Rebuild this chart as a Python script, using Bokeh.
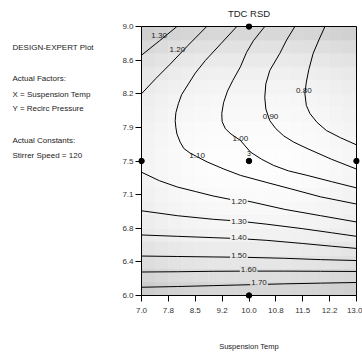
from bokeh.plotting import figure
from bokeh.layouts import row
from bokeh.models import FixedTicker, Range1d, Label, ColumnDataSource
from bokeh.embed import file_html
from bokeh.resources import INLINE
from bokeh.core.properties import value

FONT = "Liberation Sans"

# ---------------- data ----------------
title_text = "TDC RSD"
x_axis_title = "Suspension Temp"
info_lines = ["DESIGN-EXPERT Plot", "Actual Factors:", "X = Suspension Temp",
              "Y = Recirc Pressure", "Actual Constants:", "Stirrer Speed = 120"]

x_min, x_max = 7.0, 13.0
y_min, y_max = 6.0, 9.0
x_ticks = [7.0, 7.75, 8.5, 9.25, 10.0, 10.75, 11.5, 12.25, 13.0]
x_tick_labels = ["7.0", "7.8", "8.5", "9.2", "10.0", "10.8", "11.5", "12.2", "13.0"]
y_ticks = [6.0, 6.375, 6.75, 7.125, 7.5, 7.875, 8.25, 8.625, 9.0]
y_tick_labels = ["6.0", "6.4", "6.8", "7.1", "7.5", "7.9", "8.2", "8.6", "9.0"]

# contour lines (traced)
contour_levels = [1.30, 1.20, 1.10, 1.00, 0.90, 0.80, 1.20, 1.30, 1.40, 1.50, 1.60, 1.70]
contour_xs = [
    [7.99, 7.5, 7.0],
    [8.82, 8.30, 7.80, 7.40, 7.0],
    [9.66, 9.22, 8.78, 8.50, 8.31, 8.12, 8.03, 7.96, 7.94, 7.96, 7.99, 8.08, 8.18, 8.35, 8.54,
     8.83, 9.30, 9.76, 10.5, 11.16, 12.0, 13.0],
    [10.44, 10.12, 9.93, 9.76, 9.55, 9.40, 9.29, 9.24, 9.25, 9.34, 9.50, 9.76, 10.04, 10.35,
     10.69, 11.1, 11.62, 12.3, 13.0],
    [11.28, 11.05, 10.86, 10.58, 10.47, 10.44, 10.47, 10.58, 10.75, 10.97, 11.25, 11.62, 12.3, 13.0],
    [12.12, 11.95, 11.79, 11.67, 11.60, 11.56, 11.60, 11.70, 11.90, 12.16, 12.55, 13.0],
    [7.0, 7.5, 8.0, 8.5, 9.0, 9.5, 10.0, 11.0, 12.0, 13.0],
    [7.0, 8.0, 9.0, 9.7, 10.5, 11.5, 12.3, 13.0],
    [7.0, 8.0, 9.0, 9.7, 10.5, 11.5, 12.3, 13.0],
    [7.0, 8.0, 9.0, 10.0, 11.0, 12.0, 13.0],
    [7.0, 8.0, 9.0, 10.0, 11.0, 12.0, 13.0],
    [7.0, 8.0, 9.0, 10.0, 11.0, 12.0, 13.0],
]
contour_ys = [
    [9.0, 8.84, 8.68],
    [9.0, 8.79, 8.58, 8.42, 8.25],
    [9.0, 8.81, 8.62, 8.48, 8.36, 8.24, 8.14, 8.04, 7.95, 7.87, 7.80, 7.71, 7.64, 7.59, 7.55,
     7.49, 7.41, 7.34, 7.26, 7.19, 7.10, 7.02],
    [9.0, 8.84, 8.71, 8.55, 8.40, 8.28, 8.15, 8.03, 7.94, 7.86, 7.80, 7.73, 7.60, 7.52,
     7.45, 7.39, 7.34, 7.27, 7.20],
    [9.0, 8.85, 8.70, 8.51, 8.36, 8.21, 8.08, 7.95, 7.86, 7.78, 7.71, 7.64, 7.52, 7.41],
    [9.0, 8.85, 8.70, 8.52, 8.38, 8.25, 8.12, 8.03, 7.93, 7.84, 7.76, 7.68],
    [7.375, 7.28, 7.21, 7.16, 7.11, 7.07, 7.05, 6.96, 6.89, 6.82],
    [6.945, 6.89, 6.85, 6.83, 6.795, 6.745, 6.70, 6.66],
    [6.675, 6.66, 6.645, 6.635, 6.615, 6.58, 6.55, 6.525],
    [6.44, 6.435, 6.43, 6.425, 6.415, 6.40, 6.39],
    [6.262, 6.265, 6.27, 6.272, 6.272, 6.27, 6.268],
    [6.092, 6.10, 6.11, 6.12, 6.13, 6.138, 6.145],
]
label_x = [7.49, 8.0, 8.55, 9.76, 10.60, 11.53, 9.72, 9.72, 9.72, 9.72, 9.99, 10.28]
label_y = [8.90, 8.74, 7.56, 7.75, 8.00, 8.29, 7.045, 6.83, 6.645, 6.45, 6.29, 6.15]

# design points
design_x = [7.0, 10.0, 13.0, 10.0, 10.0]
design_y = [7.5, 7.5, 7.5, 9.0, 6.0]
design_reps = ["", "3", "", "", ""]

# background shading (darkness), rows bottom->top, cols left->right
shade_row_dark = [41, 33, 25, 19, 13, 9, 7, 5, 3, 2, 2, 3, 4, 6, 8, 11, 15, 21, 29, 39]
shade_col_dark = [9, 6, 4, 2, 1, 0, 0, 0, 0, 0, 0, 1, 2, 3, 5, 7]

# ---------------- layout ----------------
W, H = 362, 354
DW = 110                      # width of the left text panel
BOX_L, BOX_R, BOX_T, BOX_B = 141, 356, 26, 295
PAD = 3
FRAME_T, FRAME_B = BOX_T - PAD, BOX_B + PAD
sx = (BOX_R - BOX_L) / (x_max - x_min)
sy = (BOX_B - BOX_T) / (y_max - y_min)

# left panel with the info text; its frame is aligned with the main frame by the row,
# so its y range maps canvas pixel rows (measured from top) FRAME_T..FRAME_B
info = figure(width=DW, height=H, output_backend="svg", toolbar_location=None,
              x_range=Range1d(0, DW), y_range=Range1d(FRAME_B, FRAME_T),
              min_border=0, min_border_left=0, min_border_right=0,
              min_border_top=FRAME_T, min_border_bottom=H - FRAME_B)
info.axis.visible = False
info.grid.visible = False
info.outline_line_color = None
info.background_fill_color = "white"
info.border_fill_color = "white"
info_py = [47, 78, 94, 108, 140, 155]
for txt, py in zip(info_lines, info_py):
    info.add_layout(Label(x=12, y=py, text=txt, text_font=FONT, text_font_size="8px",
                          text_color="#222222", text_baseline="middle"))

p = figure(width=W - DW, height=H, output_backend="svg", toolbar_location=None,
           x_range=Range1d(x_min - PAD / sx, x_max + PAD / sx),
           y_range=Range1d(y_min - PAD / sy, y_max + PAD / sy),
           min_border_left=BOX_L - PAD - DW, min_border_right=W - (BOX_R + PAD),
           min_border_top=FRAME_T, min_border_bottom=H - FRAME_B,
           title=title_text)
p.outline_line_color = None
p.xgrid.visible = False
p.ygrid.visible = False
p.background_fill_color = "white"
p.border_fill_color = "white"

p.title.align = "center"
p.title.text_font = FONT
p.title.text_font_size = "9.5px"
p.title.text_font_style = "normal"
p.title.text_color = "#222222"
p.title.standoff = 9

# shading
nr, nc = len(shade_row_dark), len(shade_col_dark)
dx = (x_max - x_min) / nc
dy = (y_max - y_min) / nr
ql, qr, qb, qt, qc = [], [], [], [], []


def shade_color(i, j):
    v = max(0, 255 - shade_row_dark[i] - shade_col_dark[j])
    return "#%02x%02x%02x" % (v, v, v)


for i in range(nr):
    for j in range(nc):
        ql.append(x_min + j * dx)
        qr.append(x_min + (j + 1) * dx)
        qb.append(y_min + i * dy)
        qt.append(y_min + (i + 1) * dy)
        qc.append(shade_color(i, j))
p.quad(left=ql, right=qr, bottom=qb, top=qt, fill_color=qc, line_color=qc, line_width=0.5)

# contour lines
p.multi_line(xs=contour_xs, ys=contour_ys, line_color="black", line_width=1)

# contour labels
lab_text = ["%.2f" % v for v in contour_levels]
bg = []
for xx, yy in zip(label_x, label_y):
    j = min(nc - 1, max(0, int((xx - x_min) / dx)))
    i = min(nr - 1, max(0, int((yy - y_min) / dy)))
    bg.append(shade_color(i, j))
n_curved = 6
src_a = ColumnDataSource(dict(x=label_x[:n_curved], y=label_y[:n_curved], t=lab_text[:n_curved]))
src_b = ColumnDataSource(dict(x=label_x[n_curved:], y=label_y[n_curved:], t=lab_text[n_curved:],
                              bg=bg[n_curved:]))
p.text(x="x", y="y", text="t", source=src_a, text_font=value(FONT), text_font_size="8px",
       text_color="#222222", text_align="center", text_baseline="middle")
p.text(x="x", y="y", text="t", source=src_b, text_font=value(FONT), text_font_size="8px",
       text_color="#222222", text_align="center", text_baseline="middle",
       background_fill_color="bg", padding=1)

# frame border
p.quad(left=[x_min], right=[x_max], bottom=[y_min], top=[y_max], fill_color=None,
       line_color="black", line_width=1)

# design points
p.scatter(design_x, design_y, size=5.5, color="black")
p.text(x=design_x, y=design_y, text=design_reps, y_offset=-8, text_font=value(FONT),
       text_font_size="7px", text_color="#222222", text_align="center", text_baseline="middle")

# axes
for ax, ticks, labs in ((p.xaxis[0], x_ticks, x_tick_labels), (p.yaxis[0], y_ticks, y_tick_labels)):
    ax.ticker = FixedTicker(ticks=ticks)
    ax.major_label_overrides = {t: l for t, l in zip(ticks, labs)}
    ax.axis_line_color = None
    ax.major_tick_in = PAD
    ax.major_tick_out = 6 - PAD
    ax.major_tick_line_color = "black"
    ax.minor_tick_line_color = None
    ax.major_label_text_font = FONT
    ax.major_label_text_font_size = "8px"
    ax.major_label_text_color = "#333333"
p.xaxis.major_label_standoff = 6
p.yaxis.major_label_standoff = 2
p.xaxis.axis_label = x_axis_title
p.xaxis.axis_label_text_font = FONT
p.xaxis.axis_label_text_font_size = "7.5px"
p.xaxis.axis_label_text_font_style = "normal"
p.xaxis.axis_label_text_color = "#222222"
p.xaxis.axis_label_standoff = 26

layout = row(info, p, spacing=0)
open("out.html", "w").write(file_html(layout, INLINE))
